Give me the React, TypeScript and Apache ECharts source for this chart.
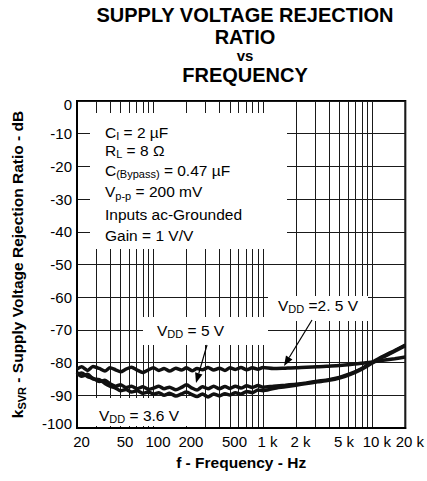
import React, { useEffect, useRef } from 'react';
import * as echarts from 'echarts';

// ---------- data ----------
const freqs = [20, 22, 25, 28, 32, 36, 40, 45, 50, 56, 63, 71, 80, 90, 100, 112, 125, 140, 160, 180, 200, 225, 250, 280, 315, 355, 400, 450, 500, 560, 630, 710, 800, 900, 1000, 1250, 1600, 2000, 2500, 3150, 4000, 5000, 6300, 8000, 10000, 12500, 16000, 20000];

const vdd25 = [-82, -81.3, -82.4, -81.2, -81.8, -82.6, -81.6, -82.2, -82.8, -82, -81.4, -82.3, -83, -82.2, -81.6, -82.4, -81.8, -82.6, -81.7, -82.3, -81.6, -82.5, -81.8, -82.2, -81.5, -82.3, -81.7, -82.4, -81.6, -82.1, -81.5, -82.2, -81.6, -82, -81.5, -81.8, -81.7, -81.6, -81.4, -81.3, -81.1, -80.9, -80.6, -80.2, -79.8, -79.3, -78.8, -78.3];

const vdd5 = [-83.8, -83.2, -84.3, -84.8, -85.8, -85.4, -86.5, -87.2, -86.8, -87.6, -87.2, -88, -87.4, -88.2, -87.8, -87.2, -88, -87.5, -88.3, -87.6, -86.8, -87.8, -88.4, -87.4, -88, -87.2, -88, -87.3, -87.9, -87.2, -87.8, -87.1, -87.6, -87, -87.5, -87.2, -86.9, -86.6, -86.2, -85.7, -85.2, -84.5, -83.4, -81.8, -79.9, -78.1, -76.3, -74.6];

const vdd36 = [-83, -84.2, -83.6, -85, -85.2, -86.4, -87.2, -87.8, -88.6, -88.2, -89, -88.6, -89.4, -89, -89.6, -89.2, -90, -89.4, -90.2, -89.6, -89, -89.8, -90.4, -89.6, -90.5, -89.6, -90.2, -89.5, -89.9, -89.2, -89.6, -88.8, -89.2, -88.4, -88.6, -87.9, -87.4, -86.9, -86.4, -85.9, -85.4, -84.7, -83.6, -82, -80.1, -78.3, -76.5, -74.8];

const seriesNames = ['VDD = 2.5 V', 'VDD = 5 V', 'VDD = 3.6 V'];

const xTickValues = [20, 50, 100, 200, 500, 1000, 2000, 5000, 10000, 20000];
const xTickLabels = ['20', '50', '100', '200', '500', '1 k', '2 k', '5 k', '10 k', '20 k'];
const xGridValues = [20, 30, 40, 50, 60, 70, 80, 90, 100, 200, 300, 400, 500, 600, 700, 800, 900, 1000, 2000, 3000, 4000, 5000, 6000, 7000, 8000, 9000, 10000, 20000];
const xMin = 20;
const xMax = 20000;
const yMin = -100;
const yMax = 0;
const yStep = 10;

const titleLines = ['SUPPLY VOLTAGE REJECTION', 'RATIO', 'vs', 'FREQUENCY'];
const xAxisName = 'f - Frequency - Hz';
const yAxisName = '{b|k}{s|SVR}{b| - Supply Voltage Rejection Ratio - dB}';
const conditionLines = [
  '{t|C}{s|I}{t| = 2 µF}',
  '{t|R}{s|L}{t| = 8 Ω}',
  '{t|C}{s|(Bypass)}{t| = 0.47 µF}',
  '{t|V}{s|p-p}{t| = 200 mV}',
  '{t|Inputs ac-Grounded}',
  '{t|Gain = 1 V/V}',
];
const curveLabels = ['{t|V}{s|DD}{t| =2. 5 V}', '{t|V}{s|DD}{t| = 5 V}', '{t|V}{s|DD}{t| = 3.6 V}'];

// ---------- layout ----------
const FONT = "'Liberation Sans', Arial, Helvetica, sans-serif";
const W = 427;
const H = 481;
const titleTops = [5, 27, 47.5, 64.5];
const titleSizes = [20, 20, 15, 20];
const titleLineHeights = [20, 20, 15, 20];
const condX = 105;
const condY = [132, 150, 170, 191.5, 214, 235];
const labelPos = [
  [278, 305],
  [157, 330],
  [99, 415],
];
const whiteBoxes = [
  [90, 113, 197, 136],
  [143, 317, 125, 28],
  [268, 296, 100, 25],
  [79, 398, 121, 28],
];
const arrows = [
  [312, 320, 284, 366],
  [207, 345, 196, 383],
];

const richText = {
  t: { fontSize: 15.5, fontFamily: FONT, fill: '#000', lineHeight: 19 },
  s: { fontSize: 11, fontFamily: FONT, fill: '#000', lineHeight: 9, verticalAlign: 'bottom' },
};

function arrowElements(a: number[]) {
  const [x0, y0, x1, y1] = a;
  const dx = x1 - x0;
  const dy = y1 - y0;
  const len = Math.sqrt(dx * dx + dy * dy);
  const ux = dx / len;
  const uy = dy / len;
  const L = 10;
  const w = 3.8;
  const bx = x1 - ux * L;
  const by = y1 - uy * L;
  return [
    {
      type: 'line',
      z: 3,
      silent: true,
      shape: { x1: x0, y1: y0, x2: bx, y2: by },
      style: { stroke: '#000', lineWidth: 1.2 },
    },
    {
      type: 'polygon',
      z: 3,
      silent: true,
      shape: {
        points: [
          [x1, y1],
          [bx - uy * w, by + ux * w],
          [bx + uy * w, by - ux * w],
        ],
      },
      style: { fill: '#000' },
    },
  ];
}

export default function App() {
  const ref = useRef<HTMLDivElement>(null);

  useEffect(() => {
    if (!ref.current) return;
    const chart = echarts.init(ref.current, null, { renderer: 'svg' });

    const findLabel = (v: number) => {
      const i = xTickValues.findIndex((f) => Math.abs(Math.log10(f) - v) < 1e-6);
      return i >= 0 ? xTickLabels[i] : '';
    };

    const graphicElements: any[] = [];
    whiteBoxes.forEach((b) => {
      graphicElements.push({
        type: 'rect',
        z: 1,
        silent: true,
        shape: { x: b[0], y: b[1], width: b[2], height: b[3] },
        style: { fill: '#fff' },
      });
    });
    conditionLines.forEach((t, i) => {
      graphicElements.push({
        type: 'text',
        z: 3,
        silent: true,
        x: condX,
        y: condY[i],
        style: { text: t, rich: richText, align: 'left', verticalAlign: 'middle' },
      });
    });
    curveLabels.forEach((t, i) => {
      graphicElements.push({
        type: 'text',
        z: 3,
        silent: true,
        x: labelPos[i][0],
        y: labelPos[i][1],
        style: { text: t, rich: richText, align: 'left', verticalAlign: 'middle' },
      });
    });
    arrows.forEach((a) => graphicElements.push(...arrowElements(a)));

    const lineSeries = [vdd25, vdd5, vdd36].map((vals, k) => ({
      name: seriesNames[k],
      type: 'line',
      xAxisIndex: 0,
      yAxisIndex: 0,
      z: 2,
      data: freqs.map((f, i) => [f, vals[i]]),
      showSymbol: false,
      symbol: 'none',
      smooth: 0.25,
      lineStyle: { color: '#111', width: 3.5 },
      silent: true,
    }));

    const option: any = {
      animation: false,
      backgroundColor: '#fff',
      title: titleLines.map((t, i) => ({
        text: t,
        left: 245,
        top: titleTops[i],
        textAlign: 'center',
        textVerticalAlign: 'top',
        padding: 0,
        textStyle: {
          fontFamily: FONT,
          fontSize: titleSizes[i],
          lineHeight: titleLineHeights[i],
          fontWeight: 'bold',
          color: '#000',
        },
      })),
      grid: {
        left: 77,
        right: 21,
        top: 101,
        bottom: 53,
        show: true,
        borderColor: '#000',
        borderWidth: 2,
        backgroundColor: 'transparent',
      },
      xAxis: [
        { type: 'log', logBase: 10, min: xMin, max: xMax, show: false },
        {
          type: 'value',
          min: Math.log10(xMin),
          max: Math.log10(xMax),
          position: 'bottom',
          axisLine: { show: true, lineStyle: { color: '#000', width: 2 } },
          axisTick: { show: false, customValues: xGridValues.map((v) => Math.log10(v)) },
          splitLine: { show: true, lineStyle: { color: '#1a1a1a', width: 1 } },
          axisLabel: {
            customValues: xTickValues.map((v) => Math.log10(v)),
            formatter: (v: number) => findLabel(v),
            fontFamily: FONT,
            fontSize: 15,
            color: '#000',
            margin: 6,
            padding: [0, 0, 0, 9],
          },
          name: xAxisName,
          nameLocation: 'middle',
          nameGap: 26,
          nameTextStyle: { fontFamily: FONT, fontSize: 15.5, fontWeight: 'bold', color: '#000' },
        },
      ],
      yAxis: {
        type: 'value',
        min: yMin,
        max: yMax,
        interval: yStep,
        axisLine: { show: true, lineStyle: { color: '#000', width: 2 } },
        axisTick: { show: false },
        splitLine: { show: true, lineStyle: { color: '#1a1a1a', width: 1 } },
        axisLabel: {
          fontFamily: FONT,
          fontSize: 15,
          color: '#000',
          margin: 5,
          formatter: (v: number) => (v === 0 ? '{top|0}' : v === -100 ? '{bot|-100}' : String(v)),
          rich: {
            top: { fontFamily: FONT, fontSize: 15, color: '#000', padding: [6, 0, 0, 0] },
            bot: { fontFamily: FONT, fontSize: 15, color: '#000', padding: [0, 0, 10, 0] },
          },
        },
        name: yAxisName,
        nameLocation: 'middle',
        nameGap: 50,
        nameRotate: 90,
        nameTextStyle: {
          fontFamily: FONT,
          fontSize: 15.5,
          fontWeight: 'bold',
          color: '#000',
          rich: {
            b: { fontFamily: FONT, fontSize: 15.5, fontWeight: 'bold', color: '#000', lineHeight: 19 },
            s: { fontFamily: FONT, fontSize: 11, fontWeight: 'bold', color: '#000', lineHeight: 9, verticalAlign: 'bottom' },
          },
        },
      },
      series: lineSeries,
      graphic: { elements: graphicElements },
    };

    chart.setOption(option);
    return () => chart.dispose();
  }, []);

  return <div ref={ref} style={{ position: 'absolute', left: 0, top: 0, width: W, height: H }} />;
}
